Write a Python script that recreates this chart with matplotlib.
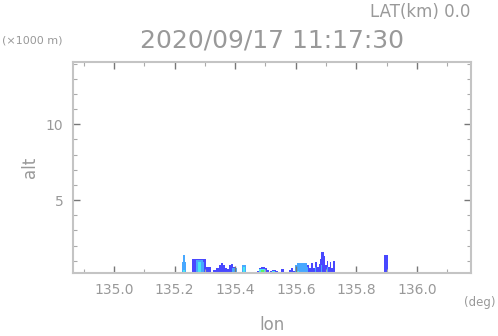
import matplotlib
matplotlib.use("Agg")
import matplotlib.pyplot as plt
from matplotlib.colors import ListedColormap
from matplotlib.ticker import MultipleLocator, FormatStrFormatter

# echo-top style profile layers: (lon, top km), step-post, 0 closes a segment
blue_lon = [135.258, 135.304, 135.320,
            135.327, 135.337, 135.347, 135.353, 135.360, 135.367, 135.373,
            135.380, 135.386, 135.393, 135.403,
            135.472, 135.479, 135.485, 135.498, 135.505, 135.512,
            135.515, 135.522, 135.535, 135.541,
            135.551, 135.561,
            135.578, 135.584, 135.591, 135.598, 135.604, 135.637, 135.644,
            135.650, 135.657, 135.664, 135.670, 135.677, 135.680, 135.683,
            135.693, 135.697, 135.703, 135.707, 135.713, 135.716, 135.723,
            135.730,
            135.891, 135.904]
blue_top = [1.1, 0.6, 0.0,
            0.4, 0.55, 0.7, 0.85, 0.7, 0.5, 0.45,
            0.7, 0.8, 0.6, 0.0,
            0.35, 0.5, 0.6, 0.55, 0.4, 0.0,
            0.3, 0.4, 0.35, 0.0,
            0.45, 0.0,
            0.4, 0.55, 0.3, 0.6, 0.85, 0.7, 0.55,
            0.85, 0.5, 0.9, 0.6, 0.8, 1.15, 1.6,
            1.3, 0.75, 1.0, 0.6, 0.95, 0.5, 1.0,
            0.0,
            1.4, 0.0]

lblue_lon = [135.225, 135.228, 135.235, 135.238,
             135.271, 135.294, 135.297,
             135.390, 135.406,
             135.423, 135.436,
             135.598, 135.604, 135.637, 135.641,
             135.664, 135.668, 135.683, 135.687, 135.703, 135.707]
lblue_top = [0.9, 1.38, 0.9, 0.0,
             1.05, 0.9, 0.0,
             0.55, 0.0,
             0.7, 0.0,
             0.7, 0.85, 0.6, 0.0,
             0.6, 0.0, 0.7, 0.0, 0.6, 0.0]

cyan_lon = [135.228, 135.235, 135.278, 135.287, 135.426, 135.433,
            135.479, 135.498, 135.522, 135.532, 135.604, 135.610]
cyan_top = [0.4, 0.0, 0.9, 0.0, 0.6, 0.0, 0.45, 0.0, 0.3, 0.0, 0.35, 0.0]

green_lon = [135.485, 135.495, 135.525, 135.528]
green_top = [0.4, 0.0, 0.27, 0.0]

yellow_lon = [135.489, 135.492]
yellow_top = [0.28, 0.0]

layers = [(blue_lon, blue_top), (lblue_lon, lblue_top), (cyan_lon, cyan_top),
          (green_lon, green_top), (yellow_lon, yellow_top)]
cmap = ListedColormap(["#4848ff", "#48a8ff", "#48e8f0", "#60f060", "#f0f040"])

x_ticks = [135.0, 135.2, 135.4, 135.6, 135.8, 136.0]
y_ticks = [5, 10]

gray = "#999999"
plt.rcParams["font.family"] = "DejaVu Sans"

fig = plt.figure(figsize=(4.98, 3.36), dpi=100)
ax = fig.add_axes([73 / 498, 63 / 336, 398 / 498, 211 / 336])

for i, (lon, top) in enumerate(layers):
    ax.fill_between(lon, 0, top, step="post", color=cmap(i), linewidth=0)

ax.set_xlim(134.865, 136.178)
ax.set_ylim(0.2, 14.1)
ax.set_xticks(x_ticks)
ax.set_yticks(y_ticks)
ax.xaxis.set_major_formatter(FormatStrFormatter("%.1f"))
ax.xaxis.set_minor_locator(MultipleLocator(0.1))
ax.yaxis.set_minor_locator(MultipleLocator(1))

for s in ax.spines.values():
    s.set_color("#c4c4c4")
    s.set_linewidth(1.5)

ax.tick_params(which="both", direction="in", top=True, right=True,
               labelsize=10, labelcolor=gray)
ax.tick_params(which="major", length=5, width=1, color="#777777", pad=7)
ax.tick_params(which="minor", length=3, width=0.8, color="#aaaaaa")

ax.set_xlabel("lon", fontsize=12, color=gray, labelpad=14)
ax.set_ylabel("alt", fontsize=12, color=gray, labelpad=5)

fig.text(0.944, 0.965, "LAT(km) 0.0", fontsize=12, color=gray,
         ha="right", va="center")
fig.text(0.546, 0.878, "2020/09/17 11:17:30", fontsize=18, color=gray,
         ha="center", va="center")
fig.text(0.004, 0.878, "(\u00d71000 m)", fontsize=8, color=gray,
         ha="left", va="center")
fig.text(0.994, 0.1, "(deg)", fontsize=8.5, color=gray,
         ha="right", va="center")

fig.savefig("out.png", dpi=100)
